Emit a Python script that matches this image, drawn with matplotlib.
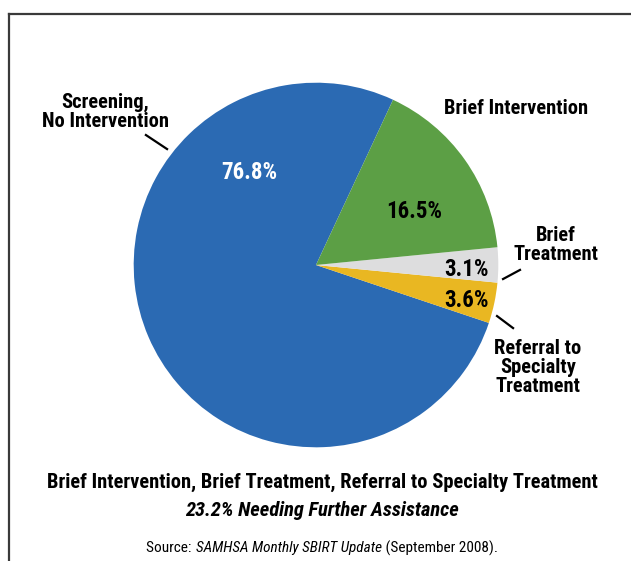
import matplotlib
matplotlib.use("Agg")
import matplotlib.pyplot as plt
from matplotlib.lines import Line2D
from matplotlib import font_manager

categories = ["Screening,\nNo Intervention", "Referral to\nSpecialty\nTreatment", "Brief\nTreatment", "Brief Intervention"]
values = [76.8, 3.6, 3.1, 16.5]
pct_labels = ["76.8%", "3.6%", "3.1%", "16.5%"]
colors = ["#2B6AB3", "#E9B722", "#DDDDDE", "#5C9F45"]
caption1 = "Brief Intervention, Brief Treatment, Referral to Specialty Treatment"
caption2 = "23.2% Needing Further Assistance"
source_parts = [("Source: ", "normal"), ("SAMHSA Monthly SBIRT Update", "italic"), (" (September 2008).", "normal")]

names = {f.name for f in font_manager.fontManager.ttflist}
cands = ["Liberation Sans Narrow", "Roboto Condensed", "Open Sans Condensed", "Noto Sans Condensed", "DejaVu Sans"]
FONT = [n for n in cands if n in names] or ["DejaVu Sans"]
plt.rcParams["font.family"] = FONT
plt.rcParams["font.stretch"] = "condensed"

W, H = 631, 561
fig = plt.figure(figsize=(W / 100, H / 100), dpi=100)
fig.patch.set_facecolor("white")

# frame
fig.add_artist(Line2D([9 / W, 1], [1 - 14 / H, 1 - 14 / H], color="#3a3a3a", lw=1.6, transform=fig.transFigure))
fig.add_artist(Line2D([9 / W, 9 / W], [1 - 14 / H, 0], color="#3a3a3a", lw=1.6, transform=fig.transFigure))

cx, cy, r = 316, 265, 182.3
ax = fig.add_axes([(cx - r) / W, (H - cy - r) / H, 2 * r / W, 2 * r / H])
ax.pie(values, colors=colors, startangle=65, counterclock=True, radius=1,
       wedgeprops=dict(linewidth=0))
ax.set_xlim(-1, 1)
ax.set_ylim(-1, 1)
ax.set_aspect("equal")
ax.axis("off")

# percent labels
pct_pos = [(-0.368, 0.51), (0.823, -0.197), (0.823, -0.027), (0.538, 0.296)]
pct_col = ["white", "black", "black", "black"]
for t, (x, y), c in zip(pct_labels, pct_pos, pct_col):
    ax.text(x, y, t, ha="center", va="center", fontsize=16.5, fontweight="bold", color=c, clip_on=False)

# category labels
lab_pos = [(-1.155, 0.839), (1.218, -0.56), (1.316, 0.11), (1.097, 0.856)]
for t, (x, y) in zip(categories, lab_pos):
    ax.text(x, y, t, ha="center", va="center", fontsize=14.8, fontweight="bold",
            linespacing=1.0, clip_on=False)

# leader lines
leaders = [((-0.933, -0.817), (0.713, 0.636)), ((0.993, 1.081), (-0.28, -0.346)), ((1.026, 1.119), (-0.077, -0.027))]
for xs, ys in leaders:
    ax.add_line(Line2D(xs, ys, color="black", lw=1.6, clip_on=False))

fig.text(322 / W, 1 - 482 / H, caption1, ha="center", va="center", fontsize=14.8, fontweight="bold")
fig.text(322 / W, 1 - 510 / H, caption2, ha="center", va="center", fontsize=14.8, fontweight="bold", style="italic")

# source line with mixed styles
renderer = fig.canvas.get_renderer()
tmp = []
for s, st in source_parts:
    t = fig.text(0, 1 - 548 / H, s, fontsize=11, style=st, va="center", ha="left")
    tmp.append(t)
widths = [t.get_window_extent(renderer).width for t in tmp]
total = sum(widths)
x = 322 - total / 2
for t, w in zip(tmp, widths):
    t.set_x(x / W)
    x += w

fig.savefig("out.png", dpi=100, facecolor="white")
